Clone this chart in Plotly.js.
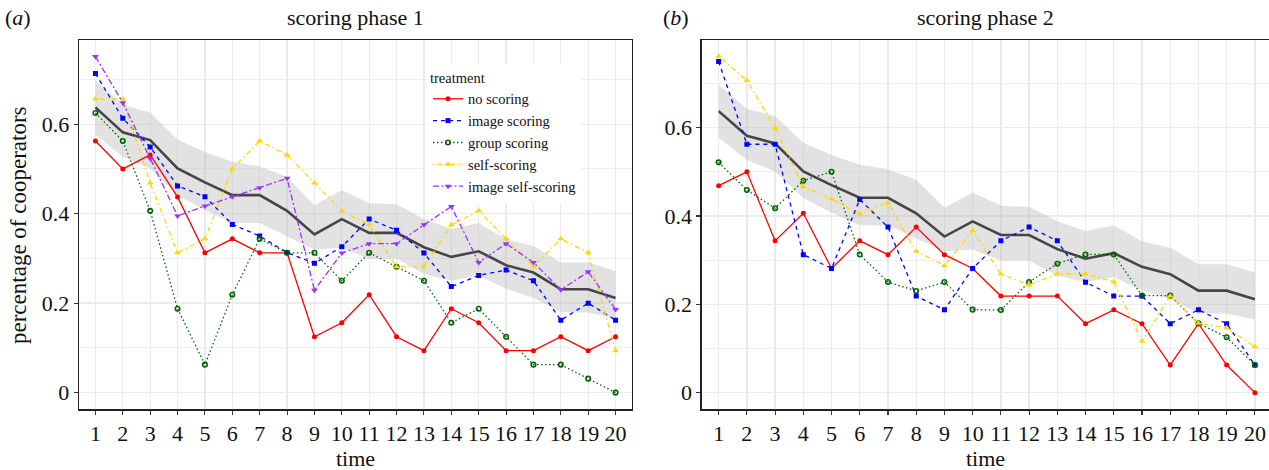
<!DOCTYPE html>
<html>
<head>
<meta charset="utf-8">
<script src="https://cdn.plot.ly/plotly-3.0.1.min.js"></script>
<style>html,body{margin:0;padding:0;background:#fff;}#chart{width:1269px;height:470px;}</style>
</head>
<body>
<div id="chart"></div>
<script>
const time = [1,2,3,4,5,6,7,8,9,10,11,12,13,14,15,16,17,18,19,20];

// phase 1
const noScoring1    = [0.5625,0.5,0.53125,0.4375,0.3125,0.34375,0.3125,0.3125,0.125,0.15625,0.21875,0.125,0.09375,0.1875,0.15625,0.09375,0.09375,0.125,0.09375,0.125];
const imageScoring1 = [0.713,0.613,0.549,0.462,0.438,0.376,0.350,0.313,0.289,0.326,0.388,0.363,0.312,0.237,0.262,0.274,0.250,0.162,0.200,0.162];
const groupScoring1 = [0.625,0.5625,0.40625,0.1875,0.0625,0.21875,0.34375,0.3125,0.3125,0.25,0.3125,0.28125,0.25,0.15625,0.1875,0.125,0.0625,0.0625,0.03125,0];
const selfScoring1  = [0.65625,0.65625,0.46875,0.3125,0.34375,0.5,0.5625,0.53125,0.46875,0.40625,0.375,0.28125,0.28125,0.375,0.40625,0.34375,0.28125,0.34375,0.3125,0.09375];
const imageSelf1    = [0.751,0.648,0.5235,0.395,0.417,0.438,0.458,0.479,0.229,0.312,0.333,0.333,0.375,0.416,0.291,0.333,0.291,0.23,0.27,0.186];

// phase 2
const noScoring2    = [0.46875,0.5,0.34375,0.40625,0.28125,0.34375,0.3125,0.375,0.3125,0.28125,0.21875,0.21875,0.21875,0.15625,0.1875,0.15625,0.0625,0.15625,0.0625,0];
const imageScoring2 = [0.75,0.5625,0.5625,0.3125,0.28125,0.4375,0.375,0.21875,0.1875,0.28125,0.34375,0.375,0.34375,0.25,0.21875,0.21875,0.15625,0.1875,0.15625,0.0625];
const groupScoring2 = [0.5216,0.459,0.4175,0.48,0.5003,0.313,0.2506,0.2302,0.2506,0.188,0.187,0.2506,0.292,0.313,0.313,0.2196,0.2196,0.157,0.1254,0.0627];
const selfScoring2  = [0.762,0.707,0.6,0.4664,0.4385,0.4046,0.43,0.32,0.2876,0.3668,0.2687,0.2438,0.2687,0.2687,0.2513,0.1163,0.219,0.157,0.147,0.104];

// overall mean and band (same in both panels)
const meanAll  = [0.6376,0.5817,0.5644,0.501,0.47,0.4414,0.4414,0.4063,0.3535,0.3877,0.357,0.357,0.325,0.3034,0.316,0.2848,0.2684,0.231,0.231,0.2116];
const bandUpper = [0.698,0.643,0.626,0.566,0.538,0.516,0.506,0.482,0.419,0.453,0.423,0.421,0.388,0.366,0.379,0.343,0.328,0.291,0.291,0.272];
const bandLower = [0.577,0.527,0.501,0.441,0.408,0.379,0.379,0.35,0.32,0.324,0.299,0.299,0.265,0.25,0.262,0.232,0.212,0.18,0.179,0.165];

const treatmentNames = ['no scoring','image scoring','group scoring','self-scoring','image self-scoring'];
const yTickVals = [0,0.2,0.4,0.6];
const yTickText = ['0','0.2','0.4','0.6'];

const FONT = 'Liberation Serif, Times New Roman, serif';
const styles = [
  {color:'#FF0000', dash:'solid', symbol:'circle', size:5},
  {color:'#0000FF', dash:'4px,4px', symbol:'square', size:5},
  {color:'#006400', dash:'1.5px,2.5px', symbol:'circle-open', size:4.5},
  {color:'#FFD700', dash:'1.5px,3px,5px,3px', symbol:'triangle-up', size:6},
  {color:'#9B30FF', dash:'6px,2.5px,2px,2.5px', symbol:'triangle-down', size:6}
];

function bandTraces(xa, ya){
  return [
    {x:time, y:bandLower, xaxis:xa, yaxis:ya, mode:'lines', line:{width:0, color:'rgba(0,0,0,0)'}, showlegend:false, hoverinfo:'skip'},
    {x:time, y:bandUpper, xaxis:xa, yaxis:ya, mode:'lines', fill:'tonexty', fillcolor:'rgba(185,185,185,0.42)', line:{width:0, color:'rgba(0,0,0,0)'}, showlegend:false, hoverinfo:'skip'},
    {x:time, y:meanAll, xaxis:xa, yaxis:ya, mode:'lines', line:{width:2.6, color:'#454545'}, showlegend:false}
  ];
}
function seriesTrace(vals, i, xa, ya, showLegend){
  const s = styles[i];
  return {x:time, y:vals, xaxis:xa, yaxis:ya, name:treatmentNames[i], legendgroup:treatmentNames[i],
    showlegend:showLegend, mode:'lines+markers',
    line:{color:s.color, width:1.3, dash:s.dash},
    marker:{color:s.color, symbol:s.symbol, size:s.size, line:{color:s.color, width: s.symbol==='circle-open'?1.6:0}}};
}

const data = [].concat(
  bandTraces('x','y'),
  [noScoring1,imageScoring1,groupScoring1,selfScoring1,imageSelf1].map((v,i)=>seriesTrace(v,i,'x','y',true)),
  bandTraces('x2','y2'),
  [noScoring2,imageScoring2,groupScoring2,selfScoring2].map((v,i)=>seriesTrace(v,i,'x2','y2',false))
);

function xAxis(domain, range){
  return {domain:domain, range:range, tickvals:time, ticktext:time.map(String), showgrid:true, gridcolor:'#EBEBEB', gridwidth:1.3,
    zeroline:false, showline:true, mirror:true, linecolor:'#222', linewidth:1.3,
    ticks:'outside', ticklen:4, tickwidth:1.1, tickcolor:'#333', tickfont:{family:FONT, size:22, color:'#111'}, automargin:false};
}
function yAxis(range, anchor){
  return {domain:[0.1289,0.9143], range:range, anchor:anchor, tickvals:yTickVals, ticktext:yTickText, showgrid:true, gridcolor:'#EBEBEB', gridwidth:1.3,
    minor:{tickvals:[0.1,0.3,0.5,0.7], showgrid:true, gridcolor:'#EFEFEF', gridwidth:1, ticks:''},
    zeroline:false, showline:true, mirror:true, linecolor:'#222', linewidth:1.3,
    ticks:'outside', ticklen:4, tickwidth:1.1, tickcolor:'#333', tickfont:{family:FONT, size:22, color:'#111'}, automargin:false};
}

const layout = {
  width:1269, height:470, margin:{l:0,r:0,t:0,b:0}, paper_bgcolor:'#fff', plot_bgcolor:'#fff',
  font:{family:FONT, color:'#111'},
  xaxis: Object.assign(xAxis([79/1269, 632/1269],[0.4,20.6]), {anchor:'y'}),
  yaxis: yAxis([-0.0375,0.7875],'x'),
  xaxis2: Object.assign(xAxis([701.7/1269, 1],[0.4,20.5]), {anchor:'y2'}),
  yaxis2: yAxis([-0.038,0.798],'x2'),
  showlegend:true,
  legend:{x:428/1269, y:1-64/470, xanchor:'left', yanchor:'top', bgcolor:'#fff', borderwidth:0,
    font:{family:FONT, size:14.5, color:'#111'}, title:{text:'treatment', font:{family:FONT, size:14.5}}, tracegroupgap:0},
  annotations:[
    {text:'scoring phase 1', xref:'paper', yref:'paper', x:355.5/1269, y:1-18/470, xanchor:'center', yanchor:'middle', showarrow:false, font:{family:FONT, size:22}},
    {text:'scoring phase 2', xref:'paper', yref:'paper', x:985/1269, y:1-18/470, xanchor:'center', yanchor:'middle', showarrow:false, font:{family:FONT, size:22}},
    {text:'(<i>a</i>)', xref:'paper', yref:'paper', x:18/1269, y:1-18/470, xanchor:'center', yanchor:'middle', showarrow:false, font:{family:FONT, size:22}},
    {text:'(<i>b</i>)', xref:'paper', yref:'paper', x:676/1269, y:1-18/470, xanchor:'center', yanchor:'middle', showarrow:false, font:{family:FONT, size:22}},
    {text:'time', xref:'paper', yref:'paper', x:355.5/1269, y:1-458/470, xanchor:'center', yanchor:'middle', showarrow:false, font:{family:FONT, size:22}},
    {text:'time', xref:'paper', yref:'paper', x:985/1269, y:1-458/470, xanchor:'center', yanchor:'middle', showarrow:false, font:{family:FONT, size:22}},
    {text:'percentage of cooperators', xref:'paper', yref:'paper', x:18/1269, y:1-225/470, xanchor:'center', yanchor:'middle', textangle:-90, showarrow:false, font:{family:FONT, size:23}}
  ]
};

Plotly.newPlot('chart', data, layout, {displayModeBar:false, staticPlot:true});
</script>
</body>
</html>
